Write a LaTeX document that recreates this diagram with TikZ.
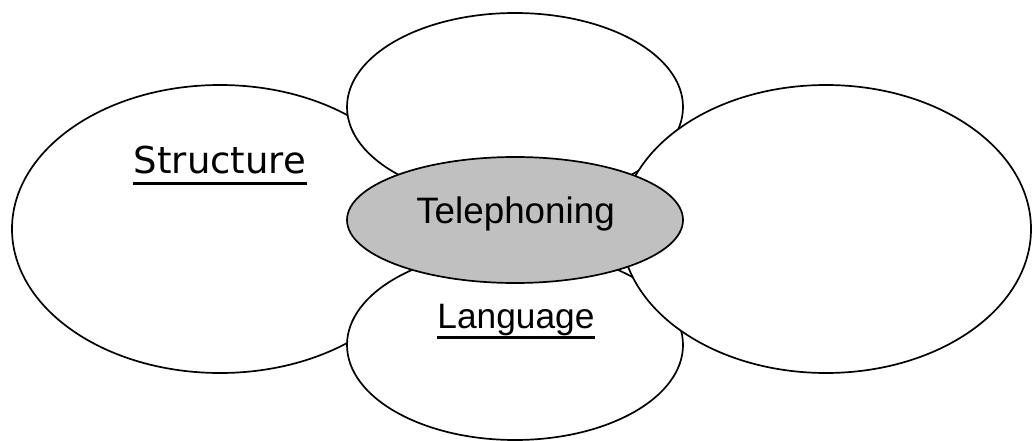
\documentclass[tikz,border=0pt]{standalone}
\usepackage{fontspec}
\setmainfont{Liberation Sans}
\newfontfamily\structfont{DejaVu Sans}
\usetikzlibrary{shapes.geometric}
\definecolor{petalgray}{RGB}{192,192,192}
\tikzset{
  petal/.style={ellipse, draw=black, line width=1.7pt, fill=white, inner sep=0pt},
  hub/.style={petal, fill=petalgray},
  label/.style={inner sep=0pt, anchor=base},
  uline/.style={line width=3pt}
}
\begin{document}
\begin{tikzpicture}[x=1pt,y=-1pt]
\useasboundingbox (0,0) rectangle (1033,441);
\node[petal, minimum width=416pt, minimum height=288pt] (left) at (220,229) {};
\node[petal, minimum width=336pt, minimum height=188pt] (top) at (515,107) {};
\node[petal, minimum width=336pt, minimum height=190pt] (bottom) at (515,345) {};
\node[petal, minimum width=410pt, minimum height=288pt] (right) at (826,229) {};
\node[hub, minimum width=336pt, minimum height=126pt] (center) at (515,220) {};
\node[label] (tel) at (515.5,223) {\fontsize{36.8}{40}\selectfont Telephoning};
\node[label] (struct) at (220,173) {\structfont\fontsize{37}{40}\selectfont Structure};
\node[label] (lang) at (516,328) {\fontsize{35.3}{40}\selectfont Language};
\draw[uline] ([xshift=-1pt,yshift=-10pt]struct.base west) -- ([xshift=1pt,yshift=-10pt]struct.base east);
\draw[uline] ([yshift=-9pt]lang.base west) -- ([yshift=-9pt]lang.base east);
\end{tikzpicture}
\end{document}
